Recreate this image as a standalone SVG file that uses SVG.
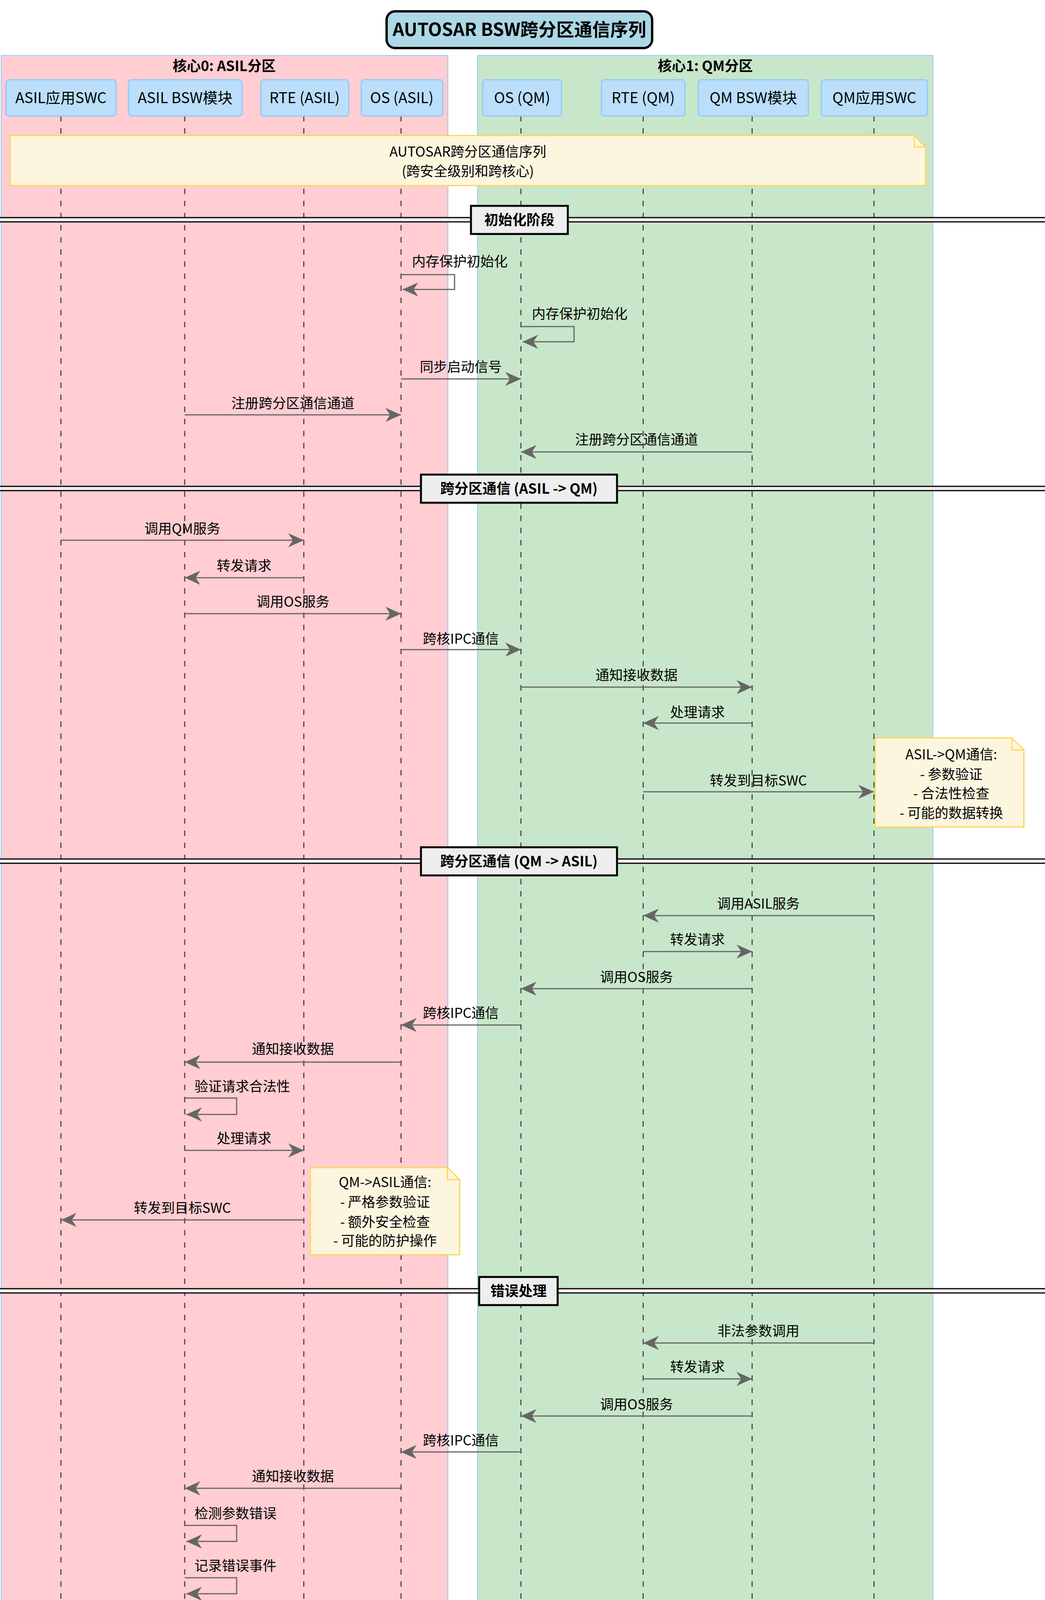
<svg xmlns="http://www.w3.org/2000/svg" width="2676" height="4975" viewBox="0 0 2676 4975">
<style>
text{font-family:"Noto Sans CJK SC","Noto Sans",sans-serif;fill:#000}
.h{fill:#BBDEFB;stroke:#90CAF9;stroke-width:3}
.ht{font-size:38px;text-anchor:middle}
.ll{stroke:#333;stroke-width:2.5;stroke-dasharray:14 17;fill:none}
.m{stroke:#666;stroke-width:3;fill:none;marker-end:url(#a)}
.ml{font-size:35px;text-anchor:middle}
.sl{font-size:35px}
.n{fill:#FDF6DF;stroke:#FFD54F;stroke-width:3}
.nt{font-size:35px;text-anchor:middle}
.dt{font-size:36px;font-weight:bold;text-anchor:middle}
.db{fill:#EEEEEE;stroke:#000;stroke-width:5}
</style>
<defs>
<marker id="a" markerUnits="userSpaceOnUse" markerWidth="44" markerHeight="40" refX="40" refY="18" orient="auto">
<path d="M0,0 L40,18 L0,36 L12,18 Z" fill="#666"/>
</marker>
</defs>
<rect width="2676" height="4975" fill="#fff"/>
<g id="title"><rect x="990" y="29" width="680" height="94" rx="22" fill="#ADD8E6" stroke="#000" stroke-width="6"/><text x="1330" y="92" font-size="46" font-weight="bold" text-anchor="middle">AUTOSAR BSW跨分区通信序列</text></g>
<g id="partition-asil"><rect x="3" y="142" width="1144" height="4826" fill="#FFCDD2" stroke="#90CAF9" stroke-width="2"/><text x="574" y="182" font-size="36" font-weight="bold" text-anchor="middle">核心0: ASIL分区</text></g>
<g id="partition-qm"><rect x="1223" y="142" width="1166" height="4826" fill="#C8E6C9" stroke="#90CAF9" stroke-width="2"/><text x="1806" y="182" font-size="36" font-weight="bold" text-anchor="middle">核心1: QM分区</text></g>
<g id="lifelines">
<path class="ll" d="M156 297V4862M473 297V4862M778 297V4862M1027 297V4862M1334 297V4862M1647 297V4862M1926 297V4862M2238 297V4862"/>
</g>
<g id="headers">
<g id="p-asil-swc"><rect class="h" x="15" y="204" width="282" height="93" rx="8"/><text class="ht" x="156" y="264">ASIL应用SWC</text><rect class="h" x="15" y="4862" width="282" height="93" rx="8"/><text class="ht" x="156" y="4922">ASIL应用SWC</text></g>
<g id="p-asil-bsw"><rect class="h" x="329" y="204" width="291" height="93" rx="8"/><text class="ht" x="474" y="264">ASIL BSW模块</text><rect class="h" x="329" y="4862" width="291" height="93" rx="8"/><text class="ht" x="474" y="4922">ASIL BSW模块</text></g>
<g id="p-rte-asil"><rect class="h" x="668" y="204" width="225" height="93" rx="8"/><text class="ht" x="780" y="264">RTE (ASIL)</text><rect class="h" x="668" y="4862" width="225" height="93" rx="8"/><text class="ht" x="780" y="4922">RTE (ASIL)</text></g>
<g id="p-os-asil"><rect class="h" x="925" y="204" width="209" height="93" rx="8"/><text class="ht" x="1029" y="264">OS (ASIL)</text><rect class="h" x="925" y="4862" width="209" height="93" rx="8"/><text class="ht" x="1029" y="4922">OS (ASIL)</text></g>
<g id="p-os-qm"><rect class="h" x="1236" y="204" width="202" height="93" rx="8"/><text class="ht" x="1337" y="264">OS (QM)</text><rect class="h" x="1236" y="4862" width="202" height="93" rx="8"/><text class="ht" x="1337" y="4922">OS (QM)</text></g>
<g id="p-rte-qm"><rect class="h" x="1540" y="204" width="214" height="93" rx="8"/><text class="ht" x="1647" y="264">RTE (QM)</text><rect class="h" x="1540" y="4862" width="214" height="93" rx="8"/><text class="ht" x="1647" y="4922">RTE (QM)</text></g>
<g id="p-qm-bsw"><rect class="h" x="1788" y="204" width="282" height="93" rx="8"/><text class="ht" x="1929" y="264">QM BSW模块</text><rect class="h" x="1788" y="4862" width="282" height="93" rx="8"/><text class="ht" x="1929" y="4922">QM BSW模块</text></g>
<g id="p-qm-swc"><rect class="h" x="2103" y="204" width="272" height="93" rx="8"/><text class="ht" x="2239" y="264">QM应用SWC</text><rect class="h" x="2103" y="4862" width="272" height="93" rx="8"/><text class="ht" x="2239" y="4922">QM应用SWC</text></g>
</g>
<g id="note-top"><path class="n" d="M26 347H2341L2370 376V475H26Z"/><path d="M2341 347V376H2370" fill="none" stroke="#FFD54F" stroke-width="3"/><text class="nt" x="1198" y="401">AUTOSAR跨分区通信序列</text><text class="nt" x="1198" y="451">(跨安全级别和跨核心)</text></g>
<g id="dividers">
<g id="d1"><rect x="-5" y="557" width="2690" height="11" fill="#EEE" stroke="#000" stroke-width="3"/><rect class="db" x="1206" y="527" width="248" height="72"/><text class="dt" x="1330" y="576">初始化阶段</text></g>
<g id="d2"><rect x="-5" y="1245" width="2690" height="11" fill="#EEE" stroke="#000" stroke-width="3"/><rect class="db" x="1078" y="1215" width="502" height="72"/><text class="dt" x="1329" y="1264">跨分区通信 (ASIL -&gt; QM)</text></g>
<g id="d3"><rect x="-5" y="2199" width="2690" height="11" fill="#EEE" stroke="#000" stroke-width="3"/><rect class="db" x="1078" y="2169" width="502" height="72"/><text class="dt" x="1329" y="2218">跨分区通信 (QM -&gt; ASIL)</text></g>
<g id="d4"><rect x="-5" y="3299" width="2690" height="11" fill="#EEE" stroke="#000" stroke-width="3"/><rect class="db" x="1227" y="3269" width="201" height="72"/><text class="dt" x="1328" y="3318">错误处理</text></g>
</g>
<g id="connectors">
<path class="m" d="M1027 703H1164V741H1031"/><text class="sl" x="1055" y="682">内存保护初始化</text>
<path class="m" d="M1334 836H1470V875H1338"/><text class="sl" x="1362" y="816">内存保护初始化</text>
<path class="m" d="M1027 970H1334"/><text class="ml" x="1180" y="952">同步启动信号</text>
<path class="m" d="M473 1062H1027"/><text class="ml" x="750" y="1045">注册跨分区通信通道</text>
<path class="m" d="M1926 1157H1334"/><text class="ml" x="1630" y="1138">注册跨分区通信通道</text>

<path class="m" d="M156 1383H778"/><text class="ml" x="467" y="1366">调用QM服务</text>
<path class="m" d="M778 1479H473"/><text class="ml" x="625" y="1461">转发请求</text>
<path class="m" d="M473 1571H1027"/><text class="ml" x="750" y="1553">调用OS服务</text>
<path class="m" d="M1027 1663H1334"/><text class="ml" x="1180" y="1648">跨核IPC通信</text>
<path class="m" d="M1334 1759H1926"/><text class="ml" x="1630" y="1741">通知接收数据</text>
<path class="m" d="M1926 1851H1647"/><text class="ml" x="1786" y="1836">处理请求</text>
<path class="m" d="M1647 2027H2238"/><text class="ml" x="1942" y="2011">转发到目标SWC</text>

<path class="m" d="M2238 2344H1647"/><text class="ml" x="1942" y="2326">调用ASIL服务</text>
<path class="m" d="M1647 2436H1926"/><text class="ml" x="1786" y="2418">转发请求</text>
<path class="m" d="M1926 2531H1334"/><text class="ml" x="1630" y="2514">调用OS服务</text>
<path class="m" d="M1334 2624H1027"/><text class="ml" x="1180" y="2606">跨核IPC通信</text>
<path class="m" d="M1027 2719H473"/><text class="ml" x="750" y="2698">通知接收数据</text>
<path class="m" d="M473 2811H606V2853H477"/><text class="sl" x="498" y="2794">验证请求合法性</text>
<path class="m" d="M473 2945H778"/><text class="ml" x="625" y="2927">处理请求</text>
<path class="m" d="M778 3123H156"/><text class="ml" x="467" y="3105">转发到目标SWC</text>

<path class="m" d="M2238 3438H1647"/><text class="ml" x="1942" y="3420">非法参数调用</text>
<path class="m" d="M1647 3530H1926"/><text class="ml" x="1786" y="3512">转发请求</text>
<path class="m" d="M1926 3625H1334"/><text class="ml" x="1630" y="3608">调用OS服务</text>
<path class="m" d="M1334 3717H1027"/><text class="ml" x="1180" y="3700">跨核IPC通信</text>
<path class="m" d="M1027 3810H473"/><text class="ml" x="750" y="3792">通知接收数据</text>
<path class="m" d="M473 3905H606V3946H477"/><text class="sl" x="498" y="3887">检测参数错误</text>
<path class="m" d="M473 4039H606V4080H477"/><text class="sl" x="498" y="4021">记录错误事件</text>
<path class="m" d="M473 4172H1027"/><text class="ml" x="750" y="4155">请求保护操作</text>
<path class="m" d="M1027 4264H1334"/><text class="ml" x="1180" y="4250">发送错误通知</text>
<path class="m" d="M1334 4360H1926"/><text class="ml" x="1630" y="4342">接收错误通知</text>
<path class="m" d="M1926 4452H1647"/><text class="ml" x="1786" y="4434">转发错误</text>
<path class="m" d="M1647 4544H2238"/><text class="ml" x="1942" y="4527">返回错误状态</text>
</g>
<g id="note-asil-qm"><path class="n" d="M2241 1889H2591L2622 1920V2117H2241Z"/><path d="M2591 1889V1920H2622" fill="none" stroke="#FFD54F" stroke-width="3"/>
<text class="nt" x="2436" y="1944">ASIL-&gt;QM通信:</text><text class="nt" x="2436" y="1995">- 参数验证</text><text class="nt" x="2436" y="2044">- 合法性检查</text><text class="nt" x="2436" y="2094">- 可能的数据转换</text></g>
<g id="note-qm-asil"><path class="n" d="M795 2989H1146L1177 3020V3212H795Z"/><path d="M1146 2989V3020H1177" fill="none" stroke="#FFD54F" stroke-width="3"/>
<text class="nt" x="986" y="3039">QM-&gt;ASIL通信:</text><text class="nt" x="986" y="3090">- 严格参数验证</text><text class="nt" x="986" y="3141">- 额外安全检查</text><text class="nt" x="986" y="3189">- 可能的防护操作</text></g>
<g id="note-safety"><path class="n" d="M280 4589H630L661 4620V4811H280Z"/><path d="M630 4589V4620H661" fill="none" stroke="#FFD54F" stroke-width="3"/>
<text class="nt" x="472" y="4642">安全验证包括:</text><text class="nt" x="472" y="4693">- 参数值范围检查</text><text class="nt" x="472" y="4741">- 安全状态检查</text><text class="nt" x="472" y="4791">- 执行权限检查</text></g>
<text x="2670" y="4948" font-size="40" text-anchor="end" fill="#999" style="fill:#9a9a9a">CSDN @KaiGer666</text>
</svg>
